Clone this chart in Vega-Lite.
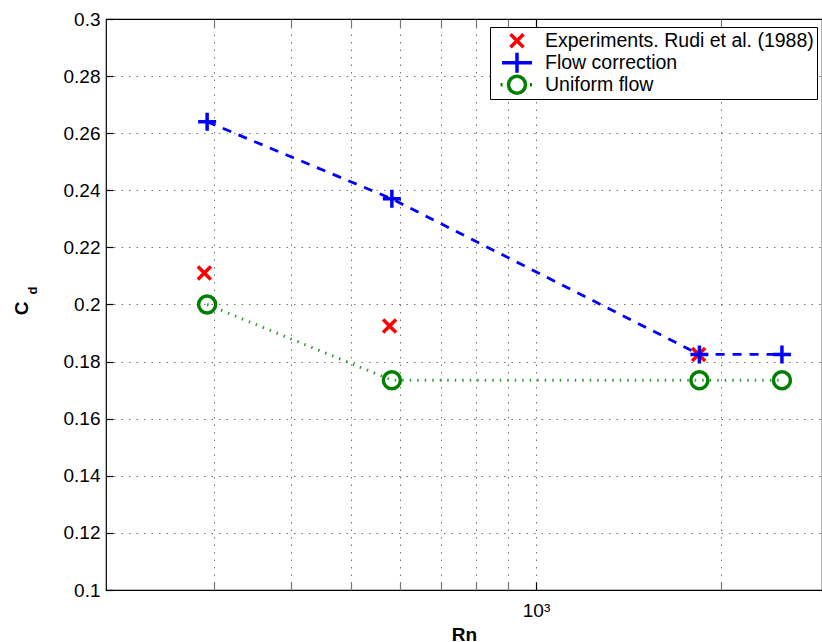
{
  "$schema": "https://vega.github.io/schema/vega-lite/v6.json",
  "width": 716,
  "height": 571,
  "autosize": {"type": "none"},
  "padding": {"left": 106, "top": 19, "right": 0, "bottom": 52},
  "background": "white",
  "config": {
    "font": "Liberation Sans",
    "view": {"stroke": "black", "strokeWidth": 1.2},
    "axis": {
      "domain": false,
      "labelFont": "Liberation Sans",
      "labelFontSize": 19,
      "labelColor": "black",
      "titleFont": "Liberation Sans",
      "titleColor": "black",
      "gridColor": "#000000",
      "gridOpacity": 0.55,
      "gridWidth": 1,
      "gridDash": [1.5, 6],
      "tickColor": "black",
      "tickWidth": 1.2
    },
    "legend": {
      "title": null,
      "orient": "none",
      "legendX": 384,
      "legendY": 8,
      "strokeColor": "black",
      "fillColor": "white",
      "padding": 3,
      "labelFont": "Liberation Sans",
      "labelFontSize": 19.5,
      "labelColor": "black",
      "labelLimit": 400,
      "symbolSize": 400,
      "symbolStrokeWidth": 3.5,
      "symbolOpacity": 1,
      "symbolOffset": 12,
      "labelOffset": 16,
      "rowPadding": 0,
      "clipHeight": 21.7,
      "cornerRadius": 0
    }
  },
  "data": {
    "values": [
      {"series": "Experiments. Rudi et al. (1988)", "Rn": 289, "Cd": 0.211},
      {"series": "Experiments. Rudi et al. (1988)", "Rn": 578, "Cd": 0.1925},
      {"series": "Experiments. Rudi et al. (1988)", "Rn": 1838, "Cd": 0.1825},
      {"series": "Flow correction", "Rn": 292, "Cd": 0.264},
      {"series": "Flow correction", "Rn": 583, "Cd": 0.237},
      {"series": "Flow correction", "Rn": 1843, "Cd": 0.1825},
      {"series": "Flow correction", "Rn": 2510, "Cd": 0.1825},
      {"series": "Uniform flow", "Rn": 292, "Cd": 0.2},
      {"series": "Uniform flow", "Rn": 583, "Cd": 0.1735},
      {"series": "Uniform flow", "Rn": 1843, "Cd": 0.1735},
      {"series": "Uniform flow", "Rn": 2510, "Cd": 0.1735}
    ]
  },
  "layer": [
    {
      "encoding": {
        "x": {"field": "Rn", "type": "quantitative", "scale": {"type": "log", "domain": [200, 2916], "nice": false}},
        "y": {"field": "Cd", "type": "quantitative", "scale": {"domain": [0.1, 0.3], "nice": false, "zero": false}}
      },
      "layer": [
        {
          "transform": [{"filter": "datum.series == 'Flow correction'"}],
          "mark": {"type": "line", "color": "#0000ff", "strokeWidth": 2.8, "strokeDash": [9, 8]},
          "encoding": {
            "x": {
              "field": "Rn", "type": "quantitative",
              "scale": {"type": "log", "domain": [200, 2916], "nice": false},
              "axis": {
                "orient": "bottom",
                "values": [300, 400, 500, 600, 700, 800, 900, 1000, 2000],
                "labelExpr": "datum.value == 1000 ? '10³' : ''",
                "labelBaseline": "top",
                "labelPadding": 19,
                "tickSize": -8,
                "tickColor": {"condition": {"test": "datum.value == 1000", "value": "black"}, "value": "#777777"},
                "grid": true,
                "title": "Rn",
                "titleFontSize": 19,
                "titleFontWeight": "bold",
                "titleX": 358,
                "titleY": 50,
                "titleAlign": "center",
                "titleBaseline": "alphabetic"
              }
            },
            "y": {
              "field": "Cd", "type": "quantitative",
              "scale": {"domain": [0.1, 0.3], "nice": false, "zero": false},
              "axis": {
                "orient": "left",
                "values": [0.1, 0.12, 0.14, 0.16, 0.18, 0.2, 0.22, 0.24, 0.26, 0.28, 0.3],
                "format": "~g",
                "labelPadding": 13,
                "tickSize": -7,
                "grid": true,
                "title": "C",
                "titleFontSize": 19,
                "titleFontWeight": "bold",
                "titleAngle": 270,
                "titleX": -79,
                "titleY": 289,
                "titleAlign": "center",
                "titleBaseline": "alphabetic"
              }
            },
            "order": {"field": "Rn", "type": "quantitative"}
          }
        },
        {
          "transform": [{"filter": "datum.series == 'Uniform flow'"}],
          "mark": {"type": "line", "color": "#3a9a3a", "strokeWidth": 3, "strokeDash": [1.5, 6]},
          "encoding": {"order": {"field": "Rn", "type": "quantitative"}}
        },
        {
          "transform": [{"filter": "datum.series == 'Experiments. Rudi et al. (1988)'"}],
          "mark": {"type": "point", "filled": false, "size": 400, "strokeWidth": 3.5, "opacity": 1, "color": "#ff0000",
                   "shape": "M-0.65,-0.65L0.65,0.65M-0.65,0.65L0.65,-0.65"}
        },
        {
          "transform": [{"filter": "datum.series == 'Flow correction'"}],
          "mark": {"type": "point", "filled": false, "size": 400, "strokeWidth": 3.5, "opacity": 1, "color": "#0000ff",
                   "shape": "M-0.9,0H0.9M0,-0.9V0.9"}
        },
        {
          "transform": [{"filter": "datum.series == 'Uniform flow'"}],
          "mark": {"type": "point", "filled": false, "size": 400, "strokeWidth": 3.5, "opacity": 1, "color": "#008000",
                   "shape": "M0.85,0A0.85,0.85 0 1,1 -0.85,0A0.85,0.85 0 1,1 0.85,0Z"}
        },
        {
          "mark": {"type": "point", "filled": false, "size": 400, "strokeWidth": 3.5, "opacity": 0},
          "encoding": {
            "color": {
              "field": "series", "type": "nominal",
              "scale": {
                "domain": ["Experiments. Rudi et al. (1988)", "Flow correction", "Uniform flow"],
                "range": ["#ff0000", "#0000ff", "#008000"]
              }
            },
            "shape": {
              "field": "series", "type": "nominal",
              "scale": {
                "domain": ["Experiments. Rudi et al. (1988)", "Flow correction", "Uniform flow"],
                "range": [
                  "M-0.65,-0.65L0.65,0.65M-0.65,0.65L0.65,-0.65",
                  "M-1.5,0H1.5M0,-1V1",
                  "M0.85,0A0.85,0.85 0 1,1 -0.85,0A0.85,0.85 0 1,1 0.85,0ZM-1.65,0H-1.45M1.3,0H1.5"
                ]
              }
            }
          }
        }
      ]
    },
    {
      "mark": {"type": "point", "opacity": 0},
      "encoding": {
        "x": {
          "field": "Rn", "type": "quantitative",
          "scale": {"type": "log", "domain": [200, 2916], "nice": false},
          "axis": {
            "orient": "top",
            "values": [300, 400, 500, 600, 700, 800, 900, 1000, 2000],
            "labels": false,
            "grid": false,
            "tickSize": -8,
            "tickColor": {"condition": {"test": "datum.value == 1000", "value": "black"}, "value": "#777777"},
            "title": null
          }
        },
        "y": {
          "field": "Cd", "type": "quantitative",
          "scale": {"domain": [0.1, 0.3], "nice": false, "zero": false},
          "axis": {
            "orient": "left",
            "labels": false,
            "ticks": false,
            "grid": false,
            "title": "d",
            "titleFontSize": 13,
            "titleFontWeight": "bold",
            "titleAngle": 270,
            "titleX": -70,
            "titleY": 271,
            "titleAlign": "center",
            "titleBaseline": "alphabetic"
          }
        }
      }
    }
  ],
  "resolve": {"axis": {"x": "independent", "y": "independent"}}
}
